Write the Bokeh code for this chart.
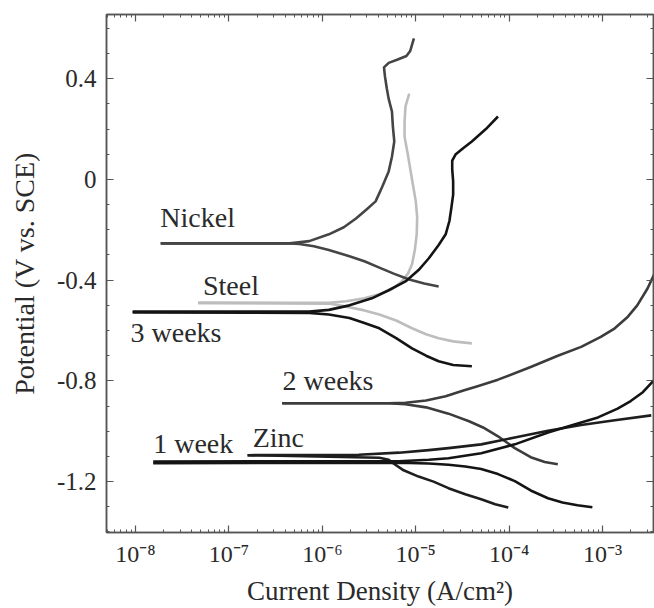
from bokeh.plotting import figure
from bokeh.models import (FixedTicker, CustomJSTickFormatter, LogAxis, LinearAxis, Label)
from bokeh.embed import file_html
from bokeh.resources import INLINE

# ---- data (log10 of current density, potential V vs SCE) ----
nickel_an_logi = [-7.73, -6.35, -6.14, -5.93, -5.77, -5.64, -5.53, -5.43, -5.36, -5.29, -5.255, -5.23, -5.245, -5.255,
                  -5.29, -5.31, -5.33, -5.34, -5.29, -5.20, -5.10, -5.06, -5.02]
nickel_an_e    = [-0.254, -0.254, -0.245, -0.218, -0.19, -0.155, -0.12, -0.087, -0.03, 0.032, 0.09, 0.151, 0.21, 0.270,
                  0.32, 0.361, 0.41, 0.445, 0.463, 0.475, 0.49, 0.51, 0.56]
nickel_ca_logi = [-7.73, -6.35, -6.245, -6.09, -5.93, -5.71, -5.55, -5.39, -5.23, -5.07, -4.91, -4.755]
nickel_ca_e    = [-0.254, -0.254, -0.256, -0.265, -0.28, -0.305, -0.325, -0.35, -0.375, -0.397, -0.413, -0.425]

steel_an_logi = [-7.33, -5.93, -5.745, -5.55, -5.39, -5.255, -5.15, -5.085, -5.04, -5.01, -4.99, -4.985, -5.0,
                 -5.04, -5.085, -5.12, -5.12, -5.11, -5.07]
steel_an_e    = [-0.490, -0.490, -0.484, -0.472, -0.456, -0.435, -0.405, -0.375, -0.337, -0.28, -0.218, -0.15, -0.087,
                 0.0, 0.099, 0.17, 0.230, 0.29, 0.341]
steel_ca_logi = [-7.33, -5.93, -5.745, -5.55, -5.39, -5.21, -5.04, -4.89, -4.755, -4.6, -4.40]
steel_ca_e    = [-0.490, -0.493, -0.505, -0.52, -0.536, -0.56, -0.591, -0.615, -0.631, -0.643, -0.651]

w3_an_logi = [-8.03, -6.14, -5.93, -5.71, -5.47, -5.29, -5.11, -4.97, -4.86, -4.755, -4.68, -4.64, -4.62, -4.60,
              -4.60, -4.61, -4.61, -4.575, -4.49, -4.40, -4.25, -4.12]
w3_an_e    = [-0.525, -0.525, -0.518, -0.50, -0.472, -0.44, -0.405, -0.36, -0.313, -0.26, -0.218, -0.165, -0.115, -0.06,
              -0.008, 0.04, 0.075, 0.099, 0.125, 0.151, 0.20, 0.250]
w3_ca_logi = [-8.03, -6.14, -5.93, -5.71, -5.55, -5.39, -5.21, -5.04, -4.89, -4.755, -4.6, -4.40]
w3_ca_e    = [-0.528, -0.53, -0.536, -0.55, -0.57, -0.591, -0.63, -0.671, -0.70, -0.722, -0.737, -0.742]

w2_an_logi = [-6.43, -5.29, -5.11, -4.89, -4.68, -4.49, -4.33, -4.12, -3.77, -3.48, -3.23, -3.02, -2.87, -2.73,
              -2.63, -2.52, -2.44]
w2_an_e    = [-0.889, -0.889, -0.887, -0.878, -0.861, -0.838, -0.82, -0.795, -0.745, -0.70, -0.665, -0.625, -0.591,
              -0.545, -0.50, -0.433, -0.37]
w2_ca_logi = [-6.43, -5.29, -5.11, -4.89, -4.65, -4.43, -4.28, -4.12, -3.94, -3.77, -3.62, -3.48]
w2_ca_e    = [-0.889, -0.889, -0.893, -0.905, -0.93, -0.96, -0.985, -1.02, -1.067, -1.103, -1.122, -1.131]

zinc_an_logi = [-6.80, -5.61, -5.18, -4.86, -4.65, -4.30, -3.94, -3.585, -3.23, -2.87, -2.48]
zinc_an_e    = [-1.095, -1.093, -1.085, -1.075, -1.067, -1.052, -1.025, -0.998, -0.975, -0.956, -0.937]
zinc_ca_logi = [-6.80, -5.39, -5.29, -5.23, -5.13, -4.97, -4.81, -4.65, -4.47, -4.30, -4.15, -4.01]
zinc_ca_e    = [-1.095, -1.105, -1.113, -1.13, -1.155, -1.18, -1.20, -1.226, -1.25, -1.27, -1.29, -1.303]

w1_an_logi = [-7.81, -5.18, -4.86, -4.65, -4.30, -3.94, -3.585, -3.32, -3.05, -2.84, -2.70, -2.57, -2.47, -2.36]
w1_an_e    = [-1.120, -1.119, -1.113, -1.107, -1.087, -1.052, -1.005, -0.975, -0.945, -0.91, -0.88, -0.845, -0.805, -0.76]
w1_ca_logi = [-7.81, -5.18, -4.86, -4.65, -4.47, -4.30, -4.12, -3.94, -3.77, -3.585, -3.43, -3.27, -3.11]
w1_ca_e    = [-1.127, -1.125, -1.128, -1.133, -1.14, -1.15, -1.17, -1.198, -1.235, -1.266, -1.283, -1.294, -1.302]

x_tick_exps = [-8, -7, -6, -5, -4, -3]
y_ticks = [-1.2, -0.8, -0.4, 0.0, 0.4]
y_minor = [-1.4, -1.3, -1.1, -1.0, -0.9, -0.7, -0.6, -0.5, -0.3, -0.2, -0.1, 0.1, 0.2, 0.3, 0.5, 0.6]

labels = [("Nickel", -7.734, -0.152), ("Steel", -7.277, -0.422), ("3 weeks", -8.053, -0.609),
          ("2 weeks", -6.426, -0.799), ("1 week", -7.81, -1.049), ("Zinc", -6.745, -1.025)]

FONT = "Liberation Serif"

p = figure(width=654, height=608, x_axis_type="log", x_range=(4.9e-9, 3.5e-3), y_range=(-1.402, 0.655),
           output_backend="svg", toolbar_location=None,
           min_border_left=106, min_border_right=1, min_border_top=14, min_border_bottom=75)
p.grid.visible = False
p.outline_line_color = "#555555"
p.outline_line_width = 1.5
p.background_fill_color = "white"
p.border_fill_color = "white"

def L(logi, e, color, width=2.6):
    p.line([10 ** v for v in logi], e, line_color=color, line_width=width, line_join="round")

L(steel_an_logi, steel_an_e, "#bdbdbd")
L(steel_ca_logi, steel_ca_e, "#bdbdbd")
L(nickel_an_logi, nickel_an_e, "#454545")
L(nickel_ca_logi, nickel_ca_e, "#454545")
L(w3_an_logi, w3_an_e, "#141414")
L(w3_ca_logi, w3_ca_e, "#141414")
L(w2_an_logi, w2_an_e, "#3c3c3c")
L(w2_ca_logi, w2_ca_e, "#3c3c3c")
L(zinc_an_logi, zinc_an_e, "#1e1e1e")
L(zinc_ca_logi, zinc_ca_e, "#1e1e1e")
L(w1_an_logi, w1_an_e, "#141414")
L(w1_ca_logi, w1_ca_e, "#141414")

for txt, lx, ly in labels:
    p.add_layout(Label(x=10 ** lx, y=ly, text=txt, text_font=FONT, text_font_size="28px",
                       text_color="#2a2a2a", text_baseline="alphabetic"))

major_x = [10.0 ** e for e in x_tick_exps]
minor_x = [m * 10.0 ** e for e in range(-9, -2) for m in range(2, 10)]
xt = FixedTicker(ticks=major_x, minor_ticks=minor_x)
yt = FixedTicker(ticks=y_ticks, minor_ticks=y_minor)

sup_fmt = CustomJSTickFormatter(code="""
const sup = {'-':'\u207b','0':'\u2070','1':'\u00b9','2':'\u00b2','3':'\u00b3','4':'\u2074','5':'\u2075','6':'\u2076','7':'\u2077','8':'\u2078','9':'\u2079'};
const e = Math.round(Math.log10(tick));
return '10' + String(e).split('').map(c => sup[c]).join('');
""")
y_fmt = CustomJSTickFormatter(code="""
if (Math.abs(tick) < 1e-9) { return '0'; }
return tick.toFixed(1);
""")
blank = CustomJSTickFormatter(code="return '';")

def style(ax):
    ax.major_tick_in = 7
    ax.major_tick_out = 0
    ax.minor_tick_in = 3
    ax.minor_tick_out = 0
    ax.axis_line_color = "#555555"
    ax.axis_line_width = 1.5
    ax.major_tick_line_color = "#555555"
    ax.minor_tick_line_color = "#555555"
    ax.major_tick_line_width = 1.2
    ax.major_label_text_font = FONT
    ax.major_label_text_color = "#2a2a2a"
    ax.axis_label_text_font = FONT
    ax.axis_label_text_font_style = "normal"
    ax.axis_label_text_color = "#2a2a2a"

xa = p.xaxis[0]
xa.ticker = xt
xa.formatter = sup_fmt
xa.axis_label = "Current Density (A/cm\u00b2)"
style(xa)
xa.major_label_text_font_size = "24px"
xa.axis_label_text_font_size = "27px"
xa.major_label_standoff = 8
xa.axis_label_standoff = 6

ya = p.yaxis[0]
ya.ticker = yt
ya.formatter = y_fmt
ya.axis_label = "Potential (V vs. SCE)"
style(ya)
ya.major_label_text_font_size = "25px"
ya.axis_label_text_font_size = "28px"
ya.major_label_standoff = 10
ya.axis_label_standoff = 14

top = LogAxis(ticker=xt, formatter=blank)
style(top)
top.major_label_text_font_size = "0px"
top.major_label_standoff = 0
p.add_layout(top, "above")

right = LinearAxis(ticker=yt, formatter=blank)
style(right)
right.major_label_text_font_size = "0px"
right.major_label_standoff = 0
p.add_layout(right, "right")

open("out.html", "w").write(file_html(p, INLINE))
